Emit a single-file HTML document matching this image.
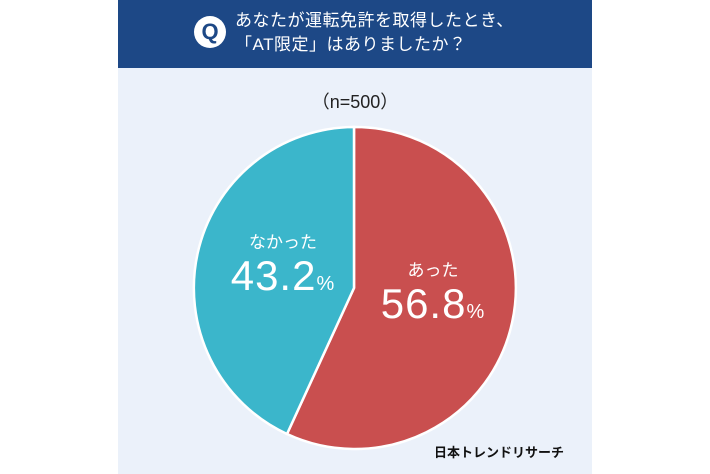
<!DOCTYPE html>
<html><head><meta charset="utf-8"><style>
body{margin:0;width:710px;height:474px;background:#fff;position:relative;overflow:hidden;font-family:"Liberation Sans","Noto Sans CJK JP",sans-serif}
.panel{position:absolute;left:118px;top:0;width:474px;height:474px;background:#ebf1fa}
.hd{position:absolute;left:0;top:0;width:474px;height:68px;background:#1d4886}
.q{position:absolute;left:76px;top:16px;width:32px;height:32px;border-radius:50%;background:#fff;color:#1d4886;font-weight:bold;font-size:22px;text-align:center;line-height:32px}
.ht{position:absolute;left:117px;top:9px;color:#fff;font-size:17px;line-height:24px;letter-spacing:0.5px}
.n{position:absolute;left:0;width:474px;top:88px;text-align:center;font-size:18px;color:#222}
.lg{position:absolute;right:28px;top:442px;font-weight:bold;font-size:13px;color:#111}
.t{position:absolute;color:#fff;text-align:center}
</style></head><body>
<div class="panel">
<div class="hd"><div class="q">Q</div><div class="ht">あなたが運転免許を取得したとき、<br>「AT限定」はありましたか？</div></div>
<div class="n">（n=500）</div>
<svg style="position:absolute;left:0;top:0" width="474" height="474">
<path d="M236,288 L236,127 A161,161 0 1 1 169,434 Z" fill="#c94f4f" stroke="#fff" stroke-width="2.5"/>
<path d="M236,288 L169,434 A161,161 0 0 1 236,127 Z" fill="#3bb6cb" stroke="#fff" stroke-width="2.5"/>
</svg>
<div class="t" style="left:105px;top:228px;width:120px;font-size:17px">なかった</div>
<div class="t" style="left:95px;top:252px;width:140px;font-size:42px;letter-spacing:1px">43.2<span style="font-size:20px">%</span></div>
<div class="t" style="left:255px;top:256px;width:120px;font-size:17px">あった</div>
<div class="t" style="left:245px;top:280px;width:140px;font-size:42px;letter-spacing:1px">56.8<span style="font-size:20px">%</span></div>
<div class="lg">日本トレンドリサーチ</div>
</div>
</body></html>
